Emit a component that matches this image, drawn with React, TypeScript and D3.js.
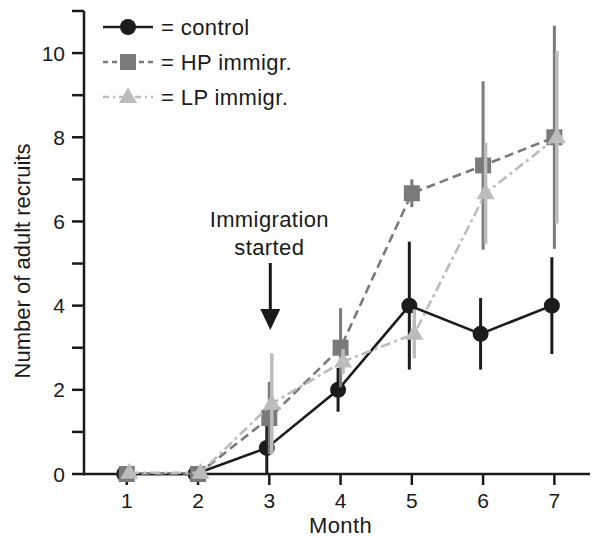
import React from "react";
import * as d3 from "d3";

const months = [1, 2, 3, 4, 5, 6, 7];
const yTicks = [0, 1, 2, 3, 4, 5, 6, 7, 8, 9, 10, 11];
const yLabels = [0, 2, 4, 6, 8, 10];

const controlMean = [0, 0, 0.62, 2.0, 4.0, 3.33, 4.0];
const controlErr = [0, 0, 0.62, 0.52, 1.52, 0.85, 1.15];
const hpMean = [0, 0, 1.33, 3.0, 6.67, 7.33, 8.0];
const hpErr = [0, 0, 0.86, 0.94, 0.33, 2.0, 2.65];
const lpMean = [0.03, 0.03, 1.67, 2.67, 3.33, 6.67, 8.0];
const lpErr = [0, 0, 1.2, 0.3, 0.58, 1.2, 2.05];

const seriesNames = ["= control", "= HP immigr.", "= LP immigr."];

const W = 592;
const H = 538;
const FONT = "'Liberation Sans', Arial, Helvetica, sans-serif";

type Series = {
  name: string;
  mean: number[];
  err: number[];
  color: string;
  dash: string;
  shape: "circle" | "square" | "triangle";
  offset: number;
  barW: number;
};

const series: Series[] = [
  { name: seriesNames[0], mean: controlMean, err: controlErr, color: "#1c1c1c", dash: "", shape: "circle", offset: -2.5, barW: 3 },
  { name: seriesNames[1], mean: hpMean, err: hpErr, color: "#7a7a7a", dash: "9,5", shape: "square", offset: 0, barW: 3 },
  { name: seriesNames[2], mean: lpMean, err: lpErr, color: "#bcbcbc", dash: "10,4,3,4", shape: "triangle", offset: 2.5, barW: 3.5 },
];

function Marker({ shape, cx, cy, color }: { shape: string; cx: number; cy: number; color: string }) {
  if (shape === "circle") return <circle cx={cx} cy={cy} r={8} fill={color} />;
  if (shape === "square") return <rect x={cx - 8} y={cy - 8} width={16} height={16} fill={color} />;
  const s = 18;
  const h = s * 0.866;
  const p = [
    [cx, cy - h * 0.62],
    [cx - s / 2, cy + h * 0.38],
    [cx + s / 2, cy + h * 0.38],
  ];
  return <polygon points={p.map((d) => d.join(",")).join(" ")} fill={color} />;
}

export default function App() {
  const x = d3.scaleLinear().domain([0.4, 7.5]).range([84, 590]);
  const y = d3.scaleLinear().domain([0, 11]).range([474, 11]);

  const lineGen = (s: Series) =>
    d3
      .line<number>()
      .x((_, i) => x(months[i]) + s.offset)
      .y((d) => y(d))(s.mean) || "";

  const LS = 0.4;

  return (
    <svg
      width={W}
      height={H}
      style={{ position: "absolute", left: 0, top: 0, background: "#fff" }}
      fontFamily={FONT}
    >
      <rect width={W} height={H} fill="#fff" />
      {/* Y axis */}
      <line x1={84} x2={84} y1={y(11)} y2={y(0) + 1.2} stroke="#1a1a1a" strokeWidth={2.5} />
      {yTicks.map((t) => (
        <line key={t} x1={72} x2={84} y1={y(t)} y2={y(t)} stroke="#1a1a1a" strokeWidth={2.5} />
      ))}
      {yLabels.map((t) => (
        <text key={t} x={65} y={y(t)} dy="0.36em" textAnchor="end" fontSize={21} fill="#1a1a1a">
          {t}
        </text>
      ))}
      <text
        transform={`translate(30,261) rotate(-90)`}
        textAnchor="middle"
        fontSize={22}
        fill="#1a1a1a"
      >
        Number of adult recruits
      </text>
      {/* X axis */}
      <line x1={83} x2={590} y1={y(0)} y2={y(0)} stroke="#1a1a1a" strokeWidth={2.5} />
      {months.map((m) => (
        <line key={m} x1={x(m)} x2={x(m)} y1={y(0)} y2={y(0) + 11} stroke="#1a1a1a" strokeWidth={2.5} />
      ))}
      {months.map((m) => (
        <text key={m} x={x(m)} y={508} textAnchor="middle" fontSize={21} fill="#1a1a1a">
          {m}
        </text>
      ))}
      <text x={x(4)} y={533} textAnchor="middle" fontSize={22} letterSpacing={LS} fill="#1a1a1a">
        Month
      </text>

      {/* Series */}
      {series.map((s) => (
        <g key={s.name}>
          <path d={lineGen(s)} fill="none" stroke={s.color} strokeWidth={2.6} strokeDasharray={s.dash} />
          {s.mean.map((v, i) =>
            s.err[i] > 0 ? (
              <line
                key={i}
                x1={x(months[i]) + s.offset}
                x2={x(months[i]) + s.offset}
                y1={y(v - s.err[i])}
                y2={y(v + s.err[i])}
                stroke={s.color}
                strokeWidth={s.barW}
              />
            ) : null
          )}
          {s.mean.map((v, i) => (
            <Marker key={i} shape={s.shape} cx={x(months[i]) + s.offset} cy={y(v)} color={s.color} />
          ))}
        </g>
      ))}

      {/* Annotation */}
      <text x={x(3)} y={227} textAnchor="middle" fontSize={22} letterSpacing={LS} fill="#1a1a1a">
        Immigration
      </text>
      <text x={x(3)} y={255} textAnchor="middle" fontSize={22} letterSpacing={LS} fill="#1a1a1a">
        started
      </text>
      <line x1={x(3) + 1} x2={x(3) + 1} y1={263} y2={312} stroke="#1a1a1a" strokeWidth={3} />
      <polygon
        points={`${x(3) - 9},${309} ${x(3) + 11},${309} ${x(3) + 1},${330}`}
        fill="#1a1a1a"
      />

      {/* Legend */}
      {series.map((s, i) => {
        const ly = 27 + i * 35;
        return (
          <g key={s.name}>
            <line x1={103} x2={153} y1={ly} y2={ly} stroke={s.color} strokeWidth={2.6} strokeDasharray={s.dash ? (i === 1 ? "5,4" : "6,4,2,4") : ""} />
            <Marker shape={s.shape} cx={128} cy={ly} color={s.color} />
            <text x={161} y={ly} dy="0.36em" fontSize={22} letterSpacing={LS} fill="#1a1a1a">
              {s.name}
            </text>
          </g>
        );
      })}
    </svg>
  );
}
